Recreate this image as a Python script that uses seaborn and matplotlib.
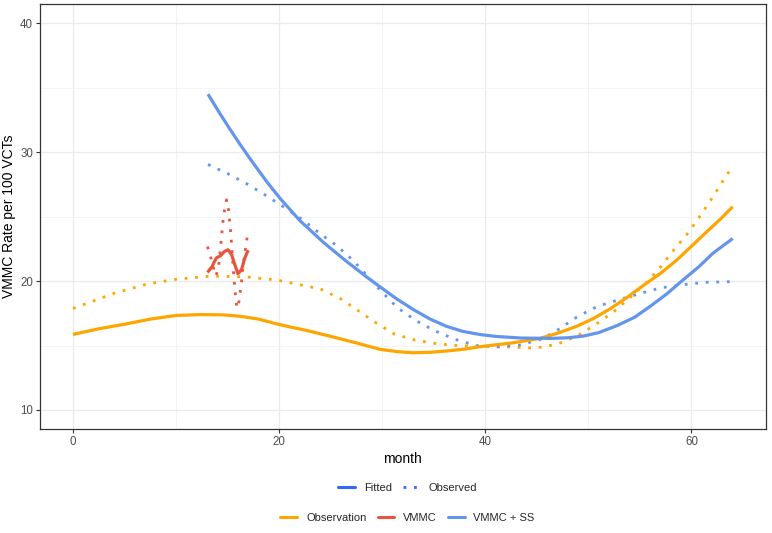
import matplotlib
matplotlib.use("Agg")
import matplotlib.pyplot as plt
from matplotlib.lines import Line2D
import seaborn as sns
import pandas as pd

# ---- data ----
obs_fit_x = [0, 2.5, 5, 7.5, 10, 12.3, 14.5, 16.2, 18, 19.4, 21, 22.5, 24.9, 27.5, 29.8, 31.5,
             33, 34.6, 36.2, 38, 39.4, 41, 42.6, 45.3, 47, 48.9, 50.5, 52.1, 53.7, 55.3, 57,
             58.6, 60, 61.5, 62.8, 64]
obs_fit_y = [15.86, 16.3, 16.65, 17.05, 17.33, 17.4, 17.38, 17.27, 17.05, 16.75, 16.45, 16.2,
             15.73, 15.2, 14.7, 14.52, 14.44, 14.47, 14.57, 14.72, 14.9, 15.05, 15.2, 15.55,
             15.95, 16.5, 17.1, 17.84, 18.7, 19.64, 20.6, 21.65, 22.7, 23.84, 24.8, 25.77]

obs_obs_x = [0, 4.1, 7.2, 10.2, 13.5, 16.6, 19.8, 21.8, 24, 25.9, 27.6, 29.4, 31.2, 33.2, 35.3,
             37.3, 39.4, 42.6, 44.8, 46.9, 48.9, 50.7, 52.4, 54, 55.6, 57, 58.3, 59.7, 60.9,
             62.1, 63.2, 64]
obs_obs_y = [17.87, 19.08, 19.77, 20.16, 20.39, 20.34, 20.08, 19.75, 19.39, 18.66, 17.74, 16.76,
             15.88, 15.42, 15.14, 15.0, 14.93, 14.88, 14.8, 15.08, 15.73, 16.63, 17.58, 18.69,
             19.85, 21.09, 22.43, 23.76, 25.13, 26.55, 27.97, 28.9]

vmmc_fit_x = [13.05, 13.5, 13.9, 14.3, 14.7, 15.05, 15.4, 15.7, 16.0, 16.35, 16.67, 17.0]
vmmc_fit_y = [20.67, 21.14, 21.79, 21.96, 22.3, 22.43, 22.04, 21.27, 20.57, 20.88, 21.79, 22.4]

vmmc_obs_x = [13.05, 13.35, 13.6, 13.85, 14.1, 14.35, 14.55, 14.7, 14.9, 15.1, 15.3, 15.45,
              15.6, 15.75, 15.9, 16.1, 16.3, 16.55, 16.9]
vmmc_obs_y = [22.68, 21.9, 21.1, 20.4, 20.9, 22.9, 24.6, 25.5, 26.3, 25.5, 23.8, 22.1,
              20.4, 19.0, 17.9, 18.4, 19.6, 21.5, 23.4]

ss_fit_x = [13.1, 14.2, 15.2, 16.2, 17.2, 18.8, 20.1, 22, 24.3, 26.5, 28.6, 30, 31.4, 33, 34.6,
            36.2, 37.8, 39.5, 41.1, 43.5, 46.3, 48, 49.5, 51, 52.8, 54.5, 56, 57.6, 59.2, 60.7,
            62.1, 64]
ss_fit_y = [34.5, 33.07, 31.82, 30.62, 29.47, 27.71, 26.41, 24.7, 23.0, 21.55, 20.25, 19.43,
            18.62, 17.8, 17.07, 16.5, 16.1, 15.85, 15.7, 15.58, 15.55, 15.6, 15.73, 16.0, 16.55,
            17.2, 18.04, 19.0, 20.1, 21.1, 22.17, 23.3]

ss_obs_x = [13.1, 15.1, 16.9, 18.7, 20.5, 22.3, 23.9, 25.6, 27.2, 28.6, 30, 31.5, 33.3, 35.1,
            37.1, 39.1, 41.2, 43.3, 45.5, 47.2, 49, 50.9, 53, 55, 57, 59.2, 61.3, 64]
ss_obs_y = [29.05, 28.3, 27.53, 26.65, 25.72, 24.75, 23.72, 22.74, 21.58, 20.36, 19.13, 17.92,
            16.92, 16.14, 15.47, 15.0, 14.9, 15.03, 15.5, 16.3, 17.27, 18.04, 18.56, 19.03,
            19.47, 19.72, 19.9, 19.96]

groups = ["Observation", "VMMC", "VMMC + SS"]
colors = {"Observation": "#FFA500", "VMMC": "#E8553E", "VMMC + SS": "#6495ED"}
fit_color = "#3366FF"

series = [
    ("Observation", "Fitted", obs_fit_x, obs_fit_y),
    ("Observation", "Observed", obs_obs_x, obs_obs_y),
    ("VMMC", "Fitted", vmmc_fit_x, vmmc_fit_y),
    ("VMMC", "Observed", vmmc_obs_x, vmmc_obs_y),
    ("VMMC + SS", "Fitted", ss_fit_x, ss_fit_y),
    ("VMMC + SS", "Observed", ss_obs_x, ss_obs_y),
]

sns.set_theme(style="white")
plt.rcParams["font.family"] = ["Liberation Sans", "DejaVu Sans"]

fig = plt.figure(figsize=(7.72, 5.33), dpi=100)
ax = fig.add_axes([0.0518, 0.1946, 0.9400, 0.7979])

dotted = (0, (1, 2.8))
for i in [1, 3, 5, 0, 2, 4]:
    grp, kind, xs, ys = series[i]
    df = pd.DataFrame({"month": xs, "rate": ys})
    if kind == "Fitted":
        sns.lineplot(data=df, x="month", y="rate", ax=ax, color=colors[grp], lw=2.3,
                     sort=False, estimator=None, solid_capstyle="butt", solid_joinstyle="round")
    else:
        sns.lineplot(data=df, x="month", y="rate", ax=ax, color=colors[grp], lw=2.0,
                     linestyle=dotted, sort=False, estimator=None, dash_capstyle="butt")

ax.set_xlim(-3.2, 67.2)
ax.set_ylim(8.5, 41.5)
ax.set_xticks([0, 20, 40, 60])
ax.set_yticks([10, 20, 30, 40])
ax.set_xticks([10, 30, 50], minor=True)
ax.set_yticks([15, 25, 35], minor=True)
ax.grid(True, which="major", color="#EBEBEB", lw=0.9, zorder=0)
ax.grid(True, which="minor", color="#F2F2F2", lw=0.6, zorder=0)
ax.set_axisbelow(True)
for s in ax.spines.values():
    s.set_color("#333333")
    s.set_linewidth(0.9)
ax.tick_params(which="major", direction="out", length=3, width=0.8, color="#333333",
               labelsize=8.3, labelcolor="#4D4D4D", pad=2, left=True, bottom=True)
ax.tick_params(which="minor", length=0)
ax.set_xlabel("month", fontsize=10, color="black", labelpad=3)
ax.set_ylabel("VMMC Rate per 100 VCTs", fontsize=10, color="black", labelpad=3)

h1 = [Line2D([], [], color=fit_color, lw=2.2),
      Line2D([], [], color=fit_color, lw=2.0, linestyle=dotted)]
leg1 = fig.legend(h1, ["Fitted", "Observed"], loc="center", bbox_to_anchor=(0.528, 0.084),
                  ncol=2, frameon=False, fontsize=8, handlelength=1.5, columnspacing=1.0,
                  handletextpad=0.8)
h2 = [Line2D([], [], color=colors[g], lw=2.2) for g in groups]
leg2 = fig.legend(h2, groups, loc="center", bbox_to_anchor=(0.528, 0.028), ncol=3,
                  frameon=False, fontsize=8, handlelength=1.5, columnspacing=1.0,
                  handletextpad=0.8)

fig.savefig("out.png", dpi=100)
